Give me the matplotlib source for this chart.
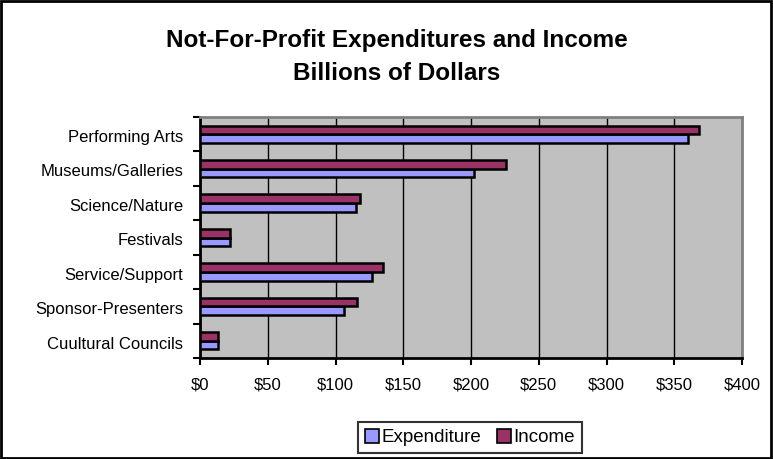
import matplotlib
matplotlib.use("Agg")
import matplotlib.pyplot as plt
from matplotlib.patches import Patch, Rectangle
import numpy as np

plt.rcParams['font.family'] = ['Liberation Sans', 'DejaVu Sans']

# datos (de abajo hacia arriba)
categorias = ['Cuultural Councils', 'Sponsor-Presenters', 'Service/Support',
              'Festivals', 'Science/Nature', 'Museums/Galleries', 'Performing Arts']
gastos = [13, 106, 127, 22, 115, 202, 360]
ingresos = [13, 116, 135, 22, 118, 226, 368]
ticks_x = [0, 50, 100, 150, 200, 250, 300, 350, 400]
etiquetas_x = ['$' + str(t) for t in ticks_x]

color_gasto = '#9999FF'
color_ingreso = '#993366'

fig = plt.figure(figsize=(7.73, 4.59), dpi=100)
ax = fig.add_axes([200 / 773, 1 - 358 / 459, 542 / 773, 241 / 459])
ax.set_facecolor('#C0C0C0')

y = np.arange(len(categorias))
alto = 0.25
ax.barh(y - alto / 2, gastos, height=alto, color=color_gasto,
        edgecolor='black', linewidth=1.8, zorder=3)
ax.barh(y + alto / 2, ingresos, height=alto, color=color_ingreso,
        edgecolor='black', linewidth=1.8, zorder=3)

ax.set_xlim(0, 400)
ax.set_ylim(-0.5, len(categorias) - 0.5)
ax.set_xticks(ticks_x)
ax.set_xticklabels(etiquetas_x, fontsize=12)
ax.tick_params(axis='x', length=5, width=1.5, pad=9)

# etiquetas en el centro, marcas en los limites de categoria
ax.set_yticks(y - 0.05)
ax.set_yticklabels(categorias, fontsize=12)
ax.tick_params(axis='y', length=0, pad=12)
ax.set_yticks(np.arange(len(categorias) + 1) - 0.5, minor=True)
ax.tick_params(axis='y', which='minor', length=5, width=1.5)

ax.grid(axis='x', color='black', linewidth=1, zorder=1)
for lado in ['top', 'right']:
    ax.spines[lado].set_color('#808080')
    ax.spines[lado].set_linewidth(2)
for lado in ['left', 'bottom']:
    ax.spines[lado].set_color('black')
    ax.spines[lado].set_linewidth(2)

fig.text(397 / 773, 1 - 47 / 459, 'Not-For-Profit Expenditures and Income',
         ha='center', va='baseline', fontsize=17.5, fontweight='bold')
fig.text(397 / 773, 1 - 80 / 459, 'Billions of Dollars',
         ha='center', va='baseline', fontsize=17.5, fontweight='bold')

handles = [Patch(facecolor=color_gasto, edgecolor='black', linewidth=1.2, label='Expenditure'),
           Patch(facecolor=color_ingreso, edgecolor='black', linewidth=1.2, label='Income')]
leg = fig.legend(handles=handles, loc='center', bbox_to_anchor=(470 / 773, 1 - 437.5 / 459),
                 ncol=2, fontsize=13.5, frameon=True, fancybox=False,
                 handlelength=0.75, handleheight=0.75, handletextpad=0.15,
                 columnspacing=0.8, borderpad=0.35)
leg.get_frame().set_edgecolor('black')
leg.get_frame().set_linewidth(1.5)

# borde de la figura
fig.patches.append(Rectangle((0.001, 0.002), 0.997, 0.996, transform=fig.transFigure,
                             fill=False, edgecolor='black', linewidth=2))

plt.savefig('out.png', dpi=100)
